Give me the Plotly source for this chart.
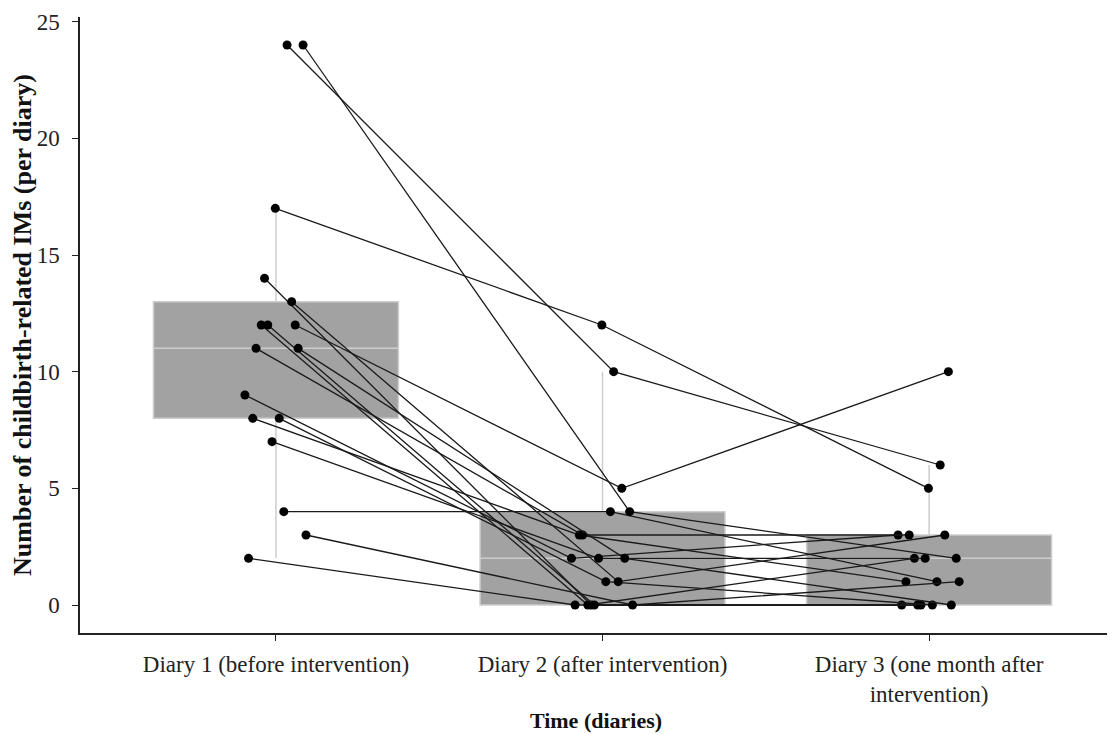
import numpy as np
import plotly.graph_objects as go

# ---- data ----
diaries = [1, 2, 3]
tick_labels = ["Diary 1 (before intervention)",
               "Diary 2 (after intervention)",
               "Diary 3 (one month after<br>intervention)"]

# one value per participant, per diary
diary1 = [9, 2, 8, 11, 12, 14, 12, 7, 17, 8, 4, 24, 13, 12, 11, 24, 3]
diary2 = [2, 0, 3, 3, 0, 0, 0, 2, 12, 1, 4, 10, 1, 5, 2, 4, 0]
diary3 = [3, 0, 1, 3, 2, 0, 0, 2, 5, 0, 1, 6, 3, 10, 0, 2, 1]
# horizontal jitter of each participant (same for all diaries)
jitter = [-0.095, -0.084, -0.071, -0.061, -0.045, -0.035, -0.025, -0.012,
          -0.002, 0.010, 0.024, 0.034, 0.048, 0.059, 0.068, 0.083, 0.092]

series = [diary1, diary2, diary3]


def box_stats(vals):
    v = np.asarray(vals, dtype=float)
    q1, med, q3 = np.percentile(v, [25, 50, 75])
    iqr = q3 - q1
    lo = v[v >= q1 - 1.5 * iqr].min()
    hi = v[v <= q3 + 1.5 * iqr].max()
    return q1, med, q3, lo, hi


stats = [box_stats(s) for s in series]

fig = go.Figure()
fig.add_trace(go.Box(
    x=diaries,
    q1=[s[0] for s in stats],
    median=[s[1] for s in stats],
    q3=[s[2] for s in stats],
    lowerfence=[s[3] for s in stats],
    upperfence=[s[4] for s in stats],
    width=0.75,
    whiskerwidth=0,
    fillcolor="#A2A2A2",
    line=dict(color="#CDCDCD", width=1.5),
    boxpoints=False,
    hoverinfo="skip",
    showlegend=False,
))

for i in range(len(diary1)):
    xs = [d + jitter[i] for d in diaries]
    ys = [diary1[i], diary2[i], diary3[i]]
    fig.add_trace(go.Scatter(
        x=xs, y=ys, mode="lines+markers",
        line=dict(color="#1a1a1a", width=1.3),
        marker=dict(color="black", size=9),
        showlegend=False,
    ))

serif = "Liberation Serif, Times New Roman, serif"
# the page body adds an 8px margin, so the figure is drawn 8px smaller
fig.update_layout(
    width=1107, height=727,
    margin=dict(l=72, r=3, t=9, b=102),
    paper_bgcolor="white", plot_bgcolor="white",
    font=dict(family=serif, color="#1a1a1a", size=22),
    xaxis=dict(
        range=[0.4, 3.56], tickvals=diaries, ticktext=tick_labels,
        showline=True, linecolor="#222", linewidth=1.5,
        ticks="outside", ticklen=6, tickcolor="#222",
        ticklabelstandoff=4,
        showgrid=False, zeroline=False, automargin=False,
        tickfont=dict(family=serif, size=23, color="#222"),
        title=dict(text="<b>Time (diaries)</b>", standoff=6,
                   font=dict(family=serif, size=22, color="#111")),
    ),
    yaxis=dict(
        range=[-1.2, 25.2], tickvals=[0, 5, 10, 15, 20, 25],
        showline=True, linecolor="#222", linewidth=1.5,
        ticks="outside", ticklen=6, tickcolor="#222",
        ticklabelstandoff=8,
        showgrid=False, zeroline=False, automargin=False,
        tickfont=dict(family=serif, size=23, color="#222"),
        title=dict(text="<b>Number of childbirth-related IMs (per diary)</b>",
                   standoff=4,
                   font=dict(family=serif, size=26, color="#111")),
    ),
)

fig.write_html("out.html")
